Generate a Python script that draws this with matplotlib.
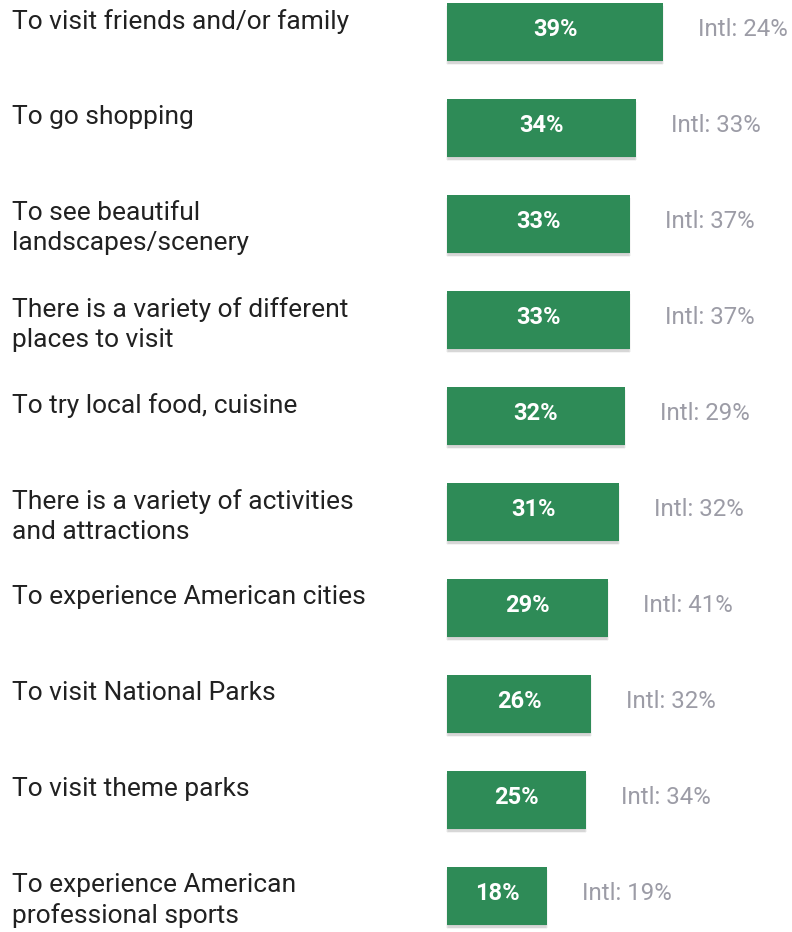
import matplotlib
matplotlib.use('Agg')
import matplotlib.pyplot as plt
import matplotlib.patheffects as pe

plt.rcParams['font.family'] = ['Roboto', 'DejaVu Sans']

reasons = [
    "To visit friends and/or family",
    "To go shopping",
    "To see beautiful\nlandscapes/scenery",
    "There is a variety of different\nplaces to visit",
    "To try local food, cuisine",
    "There is a variety of activities\nand attractions",
    "To experience American cities",
    "To visit National Parks",
    "To visit theme parks",
    "To experience American\nprofessional sports",
]
us_share = [39, 34, 33, 33, 32, 31, 29, 26, 25, 18]
intl_share = [24, 33, 37, 37, 29, 32, 41, 32, 34, 19]

W, H = 792, 932
PX_PER_PCT = 5.55
X0 = 447      # pixel where bars start
ROW = 96      # pixels between rows
BAR_H = 58

fig = plt.figure(figsize=(W / 100, H / 100), dpi=100)
ax = fig.add_axes([0, 0, 1, 1])
ax.set_xlim(-X0 / PX_PER_PCT, (W - X0) / PX_PER_PCT)
ax.set_ylim(H, 0)
ax.axis('off')

ys = [32 + ROW * i for i in range(len(reasons))]

# soft drop shadow faked with a few stacked translucent copies
shadow = [pe.SimplePatchShadow(offset=(dx, dy), shadow_rgbFace='#777777', alpha=0.08)
          for dx, dy in [(0, -1), (0, -2), (0, -3), (-0.7, -2), (0.7, -2)]]
bars = ax.barh(ys, us_share, height=BAR_H, color='#2e8b57', left=0)
for b in bars:
    b.set_path_effects(shadow + [pe.Normal()])

lab_tr = ax.get_yaxis_transform()
for y, label, v, iv in zip(ys, reasons, us_share, intl_share):
    ax.text(12 / W, y - BAR_H / 2 + 6, label, transform=lab_tr, ha='left', va='top',
            fontsize=19, color='#212121', linespacing=1.3)
    ax.text(v / 2, y - 3, f"{v}%", ha='center', va='center', fontsize=17,
            fontweight='bold', color='white')
    ax.text(v + 35 / PX_PER_PCT, y - 3, f"Intl: {iv}%", ha='left', va='center',
            fontsize=17.3, color='#9c9ca6')

fig.savefig('out.png', dpi=100)
